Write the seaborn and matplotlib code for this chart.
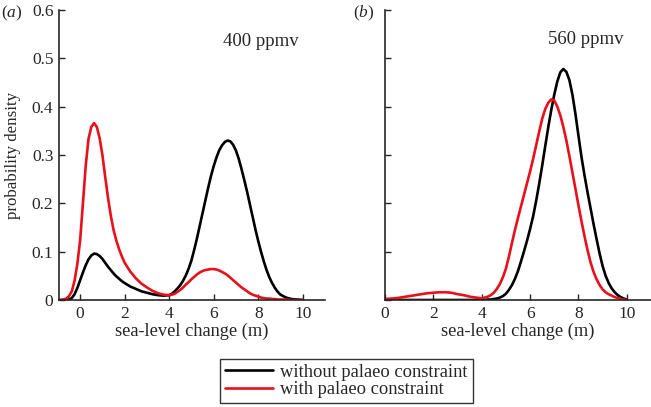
import numpy as np
import pandas as pd
import matplotlib
matplotlib.use("Agg")
import matplotlib.pyplot as plt
import seaborn as sns

# ---- data ----
# panel (a): 400 ppmv
x_a = [-1.0, -0.875, -0.75, -0.625, -0.5, -0.375, -0.25, -0.125, 0.0, 0.125, 0.25,
       0.375, 0.5, 0.625, 0.75, 0.875, 1.0, 1.125, 1.25, 1.375, 1.5, 1.625, 1.75,
       1.875, 2.0,
       2.25, 2.5, 2.75, 3.0, 3.25, 3.5, 3.75,
       4.0, 4.125, 4.25, 4.375, 4.5, 4.625, 4.75, 4.875, 5.0, 5.125, 5.25, 5.375,
       5.5, 5.625, 5.75, 5.875, 6.0, 6.125, 6.25, 6.375, 6.5, 6.625, 6.75, 6.875,
       7.0, 7.125, 7.25, 7.375, 7.5, 7.625, 7.75, 7.875, 8.0, 8.125, 8.25, 8.375,
       8.5, 8.625, 8.75, 8.875, 9.0,
       9.25, 9.5, 9.75, 10.0]
without_a = [0.0, 0.0, 0.0, 0.0, 0.001, 0.004, 0.012, 0.025, 0.041, 0.057, 0.072,
             0.084, 0.092, 0.096, 0.095, 0.091, 0.085, 0.077, 0.069, 0.062, 0.055,
             0.049, 0.044, 0.039, 0.035,
             0.028, 0.023, 0.018, 0.015, 0.012, 0.010, 0.009,
             0.010, 0.013, 0.018, 0.024, 0.031, 0.040, 0.051, 0.065, 0.082, 0.104,
             0.128, 0.154, 0.180, 0.206, 0.232, 0.256, 0.277, 0.295, 0.310, 0.320,
             0.327, 0.330, 0.328, 0.321, 0.309, 0.292, 0.271, 0.248, 0.224, 0.198,
             0.172, 0.146, 0.122, 0.100, 0.080, 0.062, 0.047, 0.035, 0.025, 0.017,
             0.011,
             0.005, 0.002, 0.001, 0.0]
with_a = [0.0, 0.0, 0.001, 0.003, 0.008, 0.018, 0.040, 0.075, 0.124, 0.200, 0.278,
          0.333, 0.358, 0.366, 0.358, 0.335, 0.300, 0.255, 0.212, 0.175, 0.145,
          0.123, 0.105, 0.090, 0.077,
          0.059, 0.045, 0.034, 0.026, 0.019, 0.014, 0.011,
          0.010, 0.011, 0.013, 0.017, 0.021, 0.026, 0.032, 0.037, 0.043, 0.048,
          0.053, 0.057, 0.060, 0.062, 0.063, 0.064, 0.064, 0.063, 0.061, 0.058,
          0.055, 0.051, 0.046, 0.041, 0.036, 0.031, 0.026, 0.022, 0.018, 0.014,
          0.011, 0.009, 0.007, 0.005, 0.004, 0.003, 0.003, 0.002, 0.002, 0.001,
          0.001,
          0.001, 0.0, 0.0, 0.0]

# panel (b): 560 ppmv
x_b = [0.0, 0.25, 0.5, 0.75, 1.0, 1.25, 1.5, 1.75, 2.0, 2.25, 2.5, 2.75, 3.0, 3.25,
       3.5, 3.75, 4.0,
       4.125, 4.25, 4.375, 4.5, 4.625, 4.75, 4.875, 5.0, 5.125, 5.25, 5.375, 5.5,
       5.625, 5.75, 5.875, 6.0, 6.125, 6.25, 6.375, 6.5, 6.625, 6.75, 6.875, 7.0,
       7.125, 7.25, 7.375, 7.5, 7.625, 7.75, 7.875, 8.0, 8.125, 8.25, 8.375, 8.5,
       8.625, 8.75, 8.875, 9.0, 9.125, 9.25, 9.375, 9.5, 9.625, 9.75, 9.875, 10.0]
without_b = [0.0, 0.0, 0.0, 0.0, 0.0, 0.0, 0.0, 0.0, 0.0, 0.0, 0.0, 0.0, 0.0, 0.0,
             0.0, 0.0, 0.0,
             0.0, 0.001, 0.001, 0.002, 0.003, 0.005, 0.008, 0.013, 0.021, 0.031,
             0.044, 0.060, 0.080, 0.101, 0.123, 0.147, 0.173, 0.205, 0.240, 0.278,
             0.318, 0.357, 0.393, 0.425, 0.452, 0.471, 0.478, 0.472, 0.455, 0.425,
             0.385, 0.340, 0.296, 0.258, 0.223, 0.190, 0.157, 0.126, 0.096, 0.070,
             0.050, 0.035, 0.024, 0.016, 0.010, 0.006, 0.003, 0.001]
with_b = [0.002, 0.003, 0.004, 0.006, 0.008, 0.010, 0.012, 0.014, 0.015, 0.016,
          0.016, 0.015, 0.012, 0.010, 0.007, 0.005, 0.0035,
          0.005, 0.007, 0.010, 0.015, 0.023, 0.033, 0.047, 0.065, 0.090, 0.118,
          0.145, 0.170, 0.194, 0.218, 0.242, 0.266, 0.292, 0.320, 0.348, 0.375,
          0.395, 0.408, 0.415, 0.413, 0.400, 0.382, 0.358, 0.330, 0.298, 0.264,
          0.230, 0.196, 0.163, 0.132, 0.103, 0.078, 0.058, 0.043, 0.031, 0.022,
          0.016, 0.012, 0.009, 0.006, 0.004, 0.002, 0.001, 0.0]

labels = ["without palaeo constraint", "with palaeo constraint"]
panel_titles = ["400 ppmv", "560 ppmv"]
panel_letters = ["a", "b"]
y_ticks = [0, 0.1, 0.2, 0.3, 0.4, 0.5, 0.6]
y_ticklabels = ["0", "0.1", "0.2", "0.3", "0.4", "0.5", "0.6"]
x_ticks = [0, 2, 4, 6, 8, 10]

df_a = pd.DataFrame({"x": x_a * 2, "y": without_a + with_a,
                     "series": [labels[0]] * len(x_a) + [labels[1]] * len(x_a)})
df_b = pd.DataFrame({"x": x_b * 2, "y": without_b + with_b,
                     "series": [labels[0]] * len(x_b) + [labels[1]] * len(x_b)})

sns.set_style("ticks")
plt.rcParams["font.family"] = ["Liberation Serif", "DejaVu Serif"]
plt.rcParams["mathtext.fontset"] = "custom"
plt.rcParams["mathtext.it"] = "Liberation Serif:italic"
plt.rcParams["mathtext.rm"] = "Liberation Serif"

palette = {labels[0]: "#000000", labels[1]: "#e8101a"}
FS = 12.5

fig = plt.figure(figsize=(6.51, 4.07), dpi=100)
ax1 = fig.add_axes([59 / 651, 1 - 300 / 407, (325 - 59) / 651, 290 / 407])
ax2 = fig.add_axes([385 / 651, 1 - 300 / 407, (651 - 385) / 651, 290 / 407])

for ax, df, xlim in [(ax1, df_a, (-0.95, 11)), (ax2, df_b, (0, 11))]:
    sns.lineplot(data=df, x="x", y="y", hue="series", palette=palette, ax=ax,
                 linewidth=1.9, legend=False, sort=False)
    ax.set_xlim(*xlim)
    ax.set_ylim(0, 0.6)
    ax.set_xticks(x_ticks)
    ax.set_xticklabels([str(t) for t in x_ticks], fontsize=FS)
    ax.set_yticks(y_ticks)
    ax.tick_params(direction="in", length=4, width=1.0, pad=4)
    ax.set_xlabel("sea-level change (m)", fontsize=13.2, labelpad=1)
    sns.despine(ax=ax)
    for s in ["left", "bottom"]:
        ax.spines[s].set_linewidth(1.2)

ax1.set_yticklabels(y_ticklabels, fontsize=FS)
ax2.set_yticklabels([])
ax1.set_ylabel("probability density", fontsize=12.2, labelpad=8)
ax2.set_ylabel("")

ax1.text(6.4, 0.535, panel_titles[0], fontsize=13.5, va="center", ha="left")
ax2.text(6.72, 0.538, panel_titles[1], fontsize=13.5, va="center", ha="left")

fig.text(1 / 651, 1 - 13 / 407, "(" + r"$\mathit{" + panel_letters[0] + "}$" + ")",
         fontsize=FS, va="center", ha="left")
fig.text(353 / 651, 1 - 13 / 407, "(" + r"$\mathit{" + panel_letters[1] + "}$" + ")",
         fontsize=FS, va="center", ha="left")

handles = [plt.Line2D([], [], color=palette[l], linewidth=1.9) for l in labels]
leg = fig.legend(handles, labels, loc="center", bbox_to_anchor=(346.5 / 651, 1 - 381 / 407),
                 frameon=True, fancybox=False, fontsize=13.3, handlelength=2.6,
                 handletextpad=0.4, borderpad=0.25, labelspacing=0.05, borderaxespad=0)
leg.get_frame().set_edgecolor("black")
leg.get_frame().set_linewidth(1.0)

fig.savefig("out.png", dpi=100)
